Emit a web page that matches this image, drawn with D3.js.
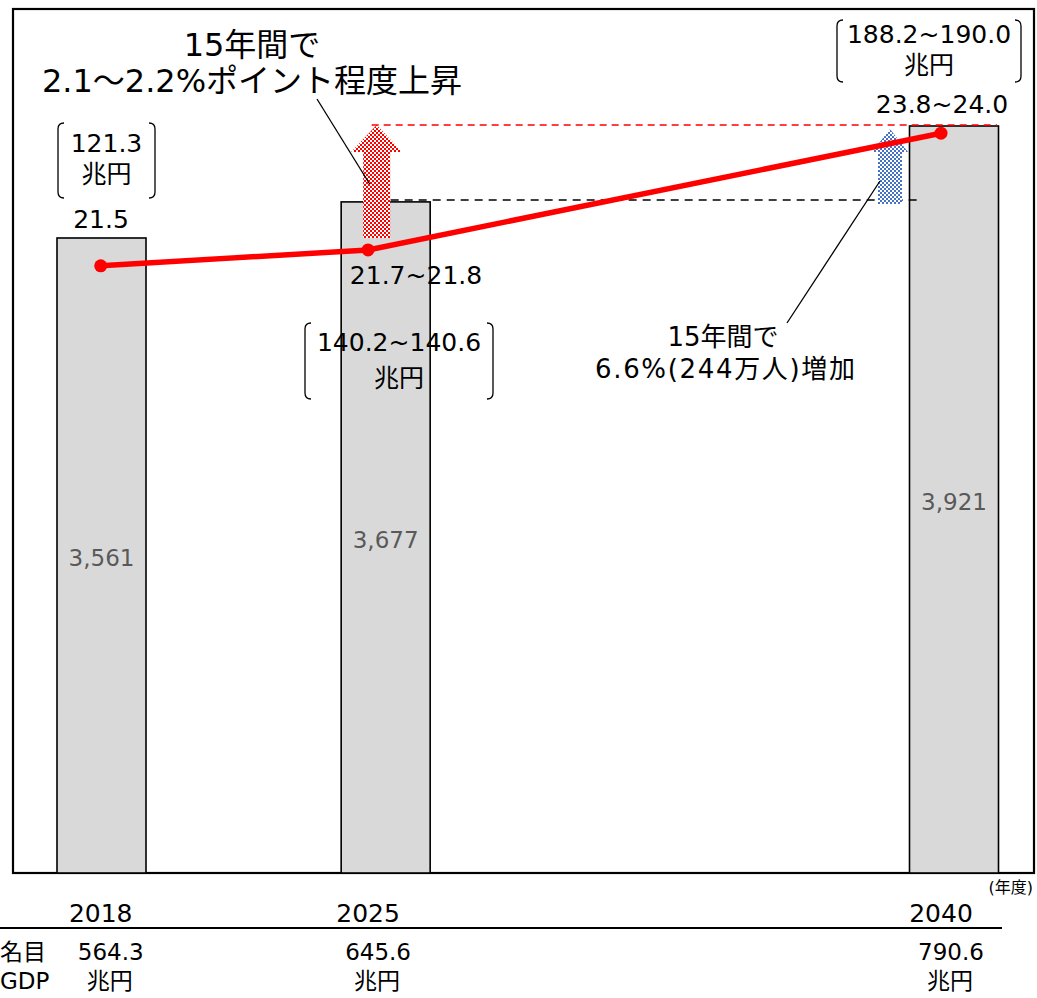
<!DOCTYPE html>
<html><head><meta charset="utf-8">
<script src="https://cdn.jsdelivr.net/npm/d3@7"></script>
<style>
body{margin:0;background:#fff;}
text{font-family:"DejaVu Sans","Noto Sans CJK JP",sans-serif;}
</style></head>
<body>
<svg id="c" width="1037" height="998"></svg>
<script>
// ---- data ----
const years = ["2018", "2025", "2040"];
const yearNum = [2018, 2025, 2040];
const barSlot = [0, 1, 3];                 // relative horizontal slot of each bar
const employment = [3561, 3677, 3921];     // 就業者数 (万人)
const ratioLine = [21.5, 21.8, 24.0];      // plotted ratio (%)
const ratioLabels = ["21.5", "21.7~21.8", "23.8~24.0"];
const costLabels = ["121.3", "140.2~140.6", "188.2~190.0"];
const gdpLabels = ["564.3", "645.6", "790.6"];
const unitLabel = "兆円";

const svg = d3.select("#c");
const frame = {l: 13, t: 9, r: 1034, b: 873};

// scales
const xBar = d3.scaleLinear().domain([0, 3]).range([101.5, 954]);
const xLine = d3.scaleLinear().domain([2018, 2040]).range([100.7, 941]);
const yBar = d3.scaleLinear().domain([1520, 4297]).range([frame.b, frame.t]);
const yLine = d3.scaleLinear().domain([10.06, 26.34]).range([frame.b, frame.t]);
const barW = 89;

// patterns
const defs = svg.append("defs");
function checker(id, col) {
  const p = defs.append("pattern").attr("id", id).attr("patternUnits", "userSpaceOnUse")
    .attr("width", 4).attr("height", 4);
  p.append("rect").attr("width", 4).attr("height", 4).attr("fill", "#fff");
  p.append("rect").attr("width", 2).attr("height", 2).attr("fill", col);
  p.append("rect").attr("x", 2).attr("y", 2).attr("width", 2).attr("height", 2).attr("fill", col);
}
checker("redChk", "#ff0000");
checker("blueChk", "#4472c4");

// frame
svg.append("rect").attr("x", frame.l).attr("y", frame.t)
  .attr("width", frame.r - frame.l).attr("height", frame.b - frame.t)
  .attr("fill", "none").attr("stroke", "#000").attr("stroke-width", 2.2);

// bars
svg.selectAll("rect.bar").data(employment).join("rect").attr("class", "bar")
  .attr("x", (d, i) => xBar(barSlot[i]) - barW / 2)
  .attr("y", d => yBar(d))
  .attr("width", barW)
  .attr("height", d => frame.b - yBar(d))
  .attr("fill", "#d9d9d9").attr("stroke", "#000").attr("stroke-width", 1.6);

// bar value labels
svg.selectAll("text.bv").data(employment).join("text").attr("class", "bv")
  .attr("x", (d, i) => xBar(barSlot[i]))
  .attr("y", d => (yBar(d) + frame.b) / 2 + 11)
  .attr("text-anchor", "middle").attr("font-size", 23).attr("fill", "#595959")
  .text(d => d3.format(",")(d));

// dashed reference lines
svg.append("line").attr("x1", xBar(1) - 14).attr("x2", xBar(3) + 43)
  .attr("y1", yBar(employment[2]) - 1).attr("y2", yBar(employment[2]) - 1)
  .attr("stroke", "#ff0000").attr("stroke-width", 1.5).attr("stroke-dasharray", "7,5");
svg.append("line").attr("x1", xBar(1) - 9).attr("x2", xBar(3) - 37)
  .attr("y1", yBar(employment[1]) - 2).attr("y2", yBar(employment[1]) - 2)
  .attr("stroke", "#000").attr("stroke-width", 1.5).attr("stroke-dasharray", "8,6");

// arrows
function arrow(cx, yTop, yBot, shaftHalf, headHalf, headLen) {
  const yb = yTop + headLen;
  return `M${cx - shaftHalf},${yBot} L${cx - shaftHalf},${yb} L${cx - headHalf},${yb} L${cx},${yTop} L${cx + headHalf},${yb} L${cx + shaftHalf},${yb} L${cx + shaftHalf},${yBot} Z`;
}
svg.append("path")
  .attr("d", arrow(xBar(1) - 9, yBar(employment[2]) - 1, yBar(employment[0]), 13.5, 25.5, 27))
  .attr("fill", "url(#redChk)");
svg.append("path")
  .attr("d", arrow(xBar(3) - 64, yBar(employment[2]) + 3, yBar(employment[1]) + 2, 12, 18, 23))
  .attr("fill", "url(#blueChk)");

// leader lines
svg.append("line").attr("x1", 317).attr("y1", 99).attr("x2", xBar(1) - 16).attr("y2", 184)
  .attr("stroke", "#000").attr("stroke-width", 1.3);
svg.append("line").attr("x1", xBar(3) - 74).attr("y1", 181).attr("x2", 787).attr("y2", 323)
  .attr("stroke", "#000").attr("stroke-width", 1.3);

// ratio line
const line = d3.line().x((d, i) => xLine(yearNum[i])).y(d => yLine(d));
svg.append("path").datum(ratioLine).attr("d", line)
  .attr("fill", "none").attr("stroke", "#ff0000").attr("stroke-width", 5.5);
svg.selectAll("circle.pt").data(ratioLine).join("circle").attr("class", "pt")
  .attr("cx", (d, i) => xLine(yearNum[i])).attr("cy", d => yLine(d)).attr("r", 6.5)
  .attr("fill", "#ff0000");

// ratio labels
const ratioPos = [[101, 228], [416, 284], [942, 113]];
svg.selectAll("text.rl").data(ratioLabels).join("text").attr("class", "rl")
  .attr("x", (d, i) => ratioPos[i][0]).attr("y", (d, i) => ratioPos[i][1])
  .attr("text-anchor", "middle").attr("font-size", 25).attr("fill", "#000").text(d => d);

// bracketed cost labels
const brk = [[58, 155, 123, 198, 152, 183], [305, 493, 323, 399, 351, 387], [837, 1021, 20, 82, 43, 74]];
function bracketPath(x0, x1, y0, y1) {
  const r = 6;
  return `M${x0 + r},${y0} Q${x0},${y0} ${x0},${y0 + r} L${x0},${y1 - r} Q${x0},${y1} ${x0 + r},${y1}` +
         ` M${x1 - r},${y0} Q${x1},${y0} ${x1},${y0 + r} L${x1},${y1 - r} Q${x1},${y1} ${x1 - r},${y1}`;
}
costLabels.forEach((lab, i) => {
  const b = brk[i];
  svg.append("path").attr("d", bracketPath(b[0], b[1], b[2], b[3]))
    .attr("fill", "none").attr("stroke", "#000").attr("stroke-width", 1.3);
  const cx = (b[0] + b[1]) / 2;
  svg.append("text").attr("x", cx).attr("y", b[4]).attr("text-anchor", "middle")
    .attr("font-size", 25).text(lab);
  svg.append("text").attr("x", cx).attr("y", b[5]).attr("text-anchor", "middle")
    .attr("font-size", 25).text(unitLabel);
});

// big annotation
svg.append("text").attr("x", 252).attr("y", 56).attr("text-anchor", "middle")
  .attr("font-size", 32).text("15年間で");
svg.append("text").attr("x", 252).attr("y", 92).attr("text-anchor", "middle")
  .attr("font-size", 32).text("2.1～2.2%ポイント程度上昇");

// employment annotation
svg.append("text").attr("x", 723).attr("y", 346).attr("text-anchor", "middle")
  .attr("font-size", 26).text("15年間で");
svg.append("text").attr("x", 725).attr("y", 378).attr("text-anchor", "middle")
  .attr("font-size", 26).attr("textLength", 260).attr("lengthAdjust", "spacing")
  .text("6.6%(244万人)増加");

// axis unit
svg.append("text").attr("x", 1033).attr("y", 893).attr("text-anchor", "end")
  .attr("font-size", 16).text("(年度)");

// year labels
svg.selectAll("text.yr").data(years).join("text").attr("class", "yr")
  .attr("x", (d, i) => xLine(yearNum[i])).attr("y", 922)
  .attr("text-anchor", "middle").attr("font-size", 25).text(d => d);
svg.append("line").attr("x1", 0).attr("x2", 1002).attr("y1", 928).attr("y2", 928)
  .attr("stroke", "#000").attr("stroke-width", 2);

// GDP row
svg.append("text").attr("x", 0).attr("y", 960).attr("font-size", 23).text("名目");
svg.append("text").attr("x", 0).attr("y", 989).attr("font-size", 23).text("GDP");
svg.selectAll("text.gdp").data(gdpLabels).join("text").attr("class", "gdp")
  .attr("x", (d, i) => xLine(yearNum[i]) + 10).attr("y", 960)
  .attr("text-anchor", "middle").attr("font-size", 23).text(d => d);
svg.selectAll("text.gdpu").data(gdpLabels).join("text").attr("class", "gdpu")
  .attr("x", (d, i) => xLine(yearNum[i]) + 9).attr("y", 989)
  .attr("text-anchor", "middle").attr("font-size", 23).text(unitLabel);
</script>
</body></html>
